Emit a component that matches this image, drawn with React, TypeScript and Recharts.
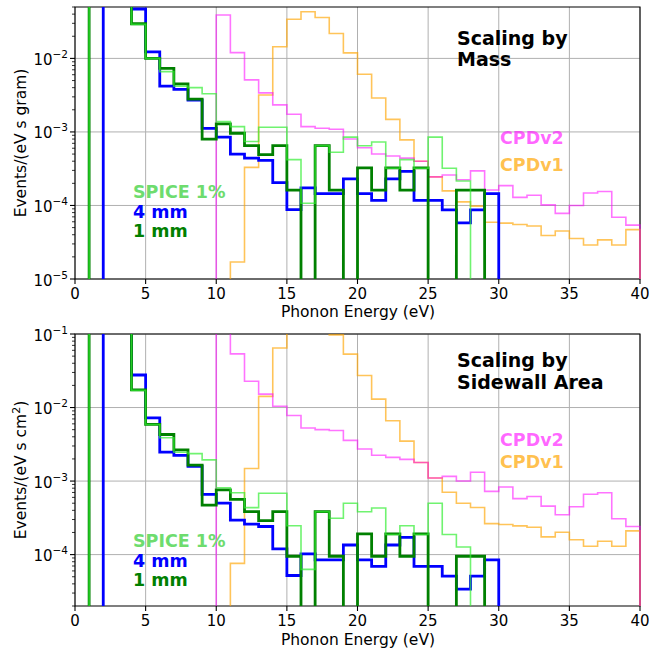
import React from "react";
import { LineChart, Line, XAxis, YAxis, CartesianGrid, ReferenceArea } from "recharts";

// bin edges in eV (1 eV bins from 0 to 40)
const binEdges = [
  0, 1, 2, 3, 4, 5, 6, 7, 8, 9, 10, 11, 12, 13, 14, 15, 16, 17, 18, 19, 20,
  21, 22, 23, 24, 25, 26, 27, 28, 29, 30, 31, 32, 33, 34, 35, 36, 37, 38, 39, 40,
];
const xTicks = [0, 5, 10, 15, 20, 25, 30, 35, 40];

// ---- scaling by mass: events / (eV s gram) ----
const massSpice = [
  0, 0.9, 0.5, 0.3, 0.029, 0.01, 0.0066, 0.0042, 0.004, 0.0033,
  0.00138, 0.00118, 0.00074, 0.00116, 0.00116, 4.2e-4, 1.07e-4, 6.5e-4, 5.3e-4, 8.5e-4,
  6.5e-4, 7.3e-4, 3.2e-4, 4.2e-4, 3.2e-4, 8.5e-4, 3.2e-4, 2.15e-4, 0, 0,
  0, 0, 0, 0, 0, 0, 0, 0, 0, 0,
];
const mass4mm = [
  0, 0, 0.8, 0.3, 0.047, 0.0123, 0.0042, 0.0038, 0.0027, 0.00112,
  0.00085, 0.0005, 0.00044, 0.00041, 0.000204, 8.8e-5, 1.74e-4, 1.45e-4, 1.45e-4, 2.3e-4,
  1.45e-4, 1.17e-4, 2.3e-4, 2.9e-4, 1.17e-4, 1.17e-4, 8.7e-5, 5.8e-5, 8.7e-5, 1.45e-4,
  0, 0, 0, 0, 0, 0, 0, 0, 0, 0,
];
const mass1mm = [
  0, 0.9, 0.5, 0.3, 0.0296, 0.01, 0.0073, 0.0045, 0.0028, 0.0008,
  0.00129, 0.00096, 0.00065, 0.00049, 0.00065, 1.62e-4, 0, 6.5e-4, 1.62e-4, 0,
  3.25e-4, 1.62e-4, 3.25e-4, 1.62e-4, 3.25e-4, 0, 0, 1.62e-4, 1.62e-4, 0,
  0, 0, 0, 0, 0, 0, 0, 0, 0, 0,
];
const massCpdV2 = [
  0, 0, 0, 0, 0, 0, 0, 0, 0, 0,
  0.039, 0.012, 0.0051, 0.0034, 0.00233, 0.00174, 0.00118, 0.00112, 0.00109, 0.0008,
  0.00061, 0.0005, 0.00047, 0.00044, 0.0004, 0.000245, 0.00026, 0.000224, 0.000295, 0.000162,
  0.000186, 0.000129, 0.000138, 0.000102, 7.8e-5, 1.0e-4, 1.48e-4, 1.55e-4, 6.9e-5, 5.4e-5,
];
const massCpdV1 = [
  0, 0, 0, 0, 0, 0, 0, 0, 0, 0,
  0, 1.7e-5, 3.3e-4, 0.00318, 0.0144, 0.034, 0.043, 0.036, 0.0218, 0.0119,
  0.0061, 0.0029, 0.00148, 0.00078, 0.0004, 0.000245, 0.000158, 0.000112, 9.8e-5, 5.9e-5,
  5.75e-5, 5.5e-5, 5.25e-5, 3.9e-5, 4.5e-5, 3.55e-5, 2.9e-5, 3.4e-5, 2.9e-5, 4.7e-5,
];

// ---- scaling by sidewall area: events / (eV s cm^2) ----
const areaSpice = [
  0, 0.5, 0.3, 0.2, 0.0171, 0.00589, 0.00389, 0.00247, 0.00236, 0.00194,
  0.00081, 0.000695, 0.000436, 0.000683, 0.000683, 2.47e-4, 6.3e-5, 3.83e-4, 3.12e-4, 5.0e-4,
  3.83e-4, 4.3e-4, 1.88e-4, 2.47e-4, 1.88e-4, 5.0e-4, 1.88e-4, 1.27e-4, 0, 0,
  0, 0, 0, 0, 0, 0, 0, 0, 0, 0,
];
const area4mm = [
  0, 0, 0.5, 0.2, 0.0277, 0.00724, 0.00247, 0.00224, 0.00159, 0.00066,
  0.0005, 0.000295, 0.000259, 0.000241, 0.00012, 5.2e-5, 1.02e-4, 8.5e-5, 8.5e-5, 1.35e-4,
  8.5e-5, 6.9e-5, 1.35e-4, 1.71e-4, 6.9e-5, 6.9e-5, 5.1e-5, 3.4e-5, 5.1e-5, 8.5e-5,
  0, 0, 0, 0, 0, 0, 0, 0, 0, 0,
];
const area1mm = [
  0, 0.5, 0.3, 0.2, 0.0174, 0.00589, 0.0043, 0.00265, 0.00165, 0.00047,
  0.00076, 0.000565, 0.000383, 0.000289, 0.000383, 9.5e-5, 0, 0.000383, 9.5e-5, 0,
  1.91e-4, 9.5e-5, 1.91e-4, 9.5e-5, 1.91e-4, 0, 0, 9.5e-5, 9.5e-5, 0,
  0, 0, 0, 0, 0, 0, 0, 0, 0, 0,
];
const areaCpdV2 = [
  0, 0, 0, 0, 0, 0, 0, 0, 0, 0,
  0.174, 0.0536, 0.0228, 0.0152, 0.0104, 0.00778, 0.00527, 0.00501, 0.00487, 0.00358,
  0.00273, 0.00224, 0.0021, 0.00197, 0.00179, 0.0011, 0.00116, 0.001, 0.00132, 0.000724,
  0.000831, 0.000577, 0.000617, 0.000456, 0.000349, 0.000447, 0.000662, 0.000693, 0.000308, 0.000241,
];
const areaCpdV1 = [
  0, 0, 0, 0, 0, 0, 0, 0, 0, 0,
  0, 7.6e-5, 0.00148, 0.0142, 0.0644, 0.152, 0.192, 0.161, 0.0974, 0.0532,
  0.0273, 0.013, 0.00662, 0.00349, 0.00179, 0.0011, 0.000706, 0.0005, 0.000438, 0.000264,
  0.000257, 0.000246, 0.000235, 0.000174, 0.000201, 0.000159, 0.00013, 0.000152, 0.00013, 0.00021,
];

const massMajor = [1e-5, 1e-4, 1e-3, 1e-2];
const areaMajor = [1e-4, 1e-3, 1e-2, 1e-1];

const FONT = "'DejaVu Sans', sans-serif";
const FLOOR = 1e-9; // empty bins sit far below the axis (log scale)

const SERIES = [
  { key: "cpd1", color: "#ffa500", opacity: 0.65, width: 1.6 },
  { key: "cpd2", color: "#ff00ff", opacity: 0.55, width: 1.6 },
  { key: "mm4", color: "#0000ff", opacity: 1, width: 2.8 },
  { key: "mm1", color: "#008000", opacity: 1, width: 2.8 },
  { key: "spice", color: "#33ee33", opacity: 0.7, width: 1.6 },
];

function buildRows(sets: Record<string, number[]>) {
  return binEdges.map((e, i) => {
    const row: Record<string, number> = { e };
    for (const k of Object.keys(sets)) {
      const v = sets[k][i] ?? 0;
      row[k] = v > 0 ? v : FLOOR;
    }
    return row;
  });
}

function logTicks(lo: number, hi: number) {
  const out: number[] = [];
  for (let k = Math.floor(Math.log10(lo)); k <= Math.ceil(Math.log10(hi)); k++) {
    for (let m = 1; m <= 9; m++) {
      const v = m * Math.pow(10, k);
      if (v >= lo * 0.999 && v <= hi * 1.001) out.push(v);
    }
  }
  return out;
}

function LogTick(props: any) {
  const { x, y, payload } = props;
  const p = Math.log10(payload.value);
  const major = Math.abs(p - Math.round(p)) < 1e-6;
  return (
    <g>
      <line x1={x - (major ? 5 : 3)} x2={x} y1={y} y2={y} stroke="#000" strokeWidth={major ? 1.1 : 0.8} />
      {major && (
        <text x={x - 7} y={y + 6.5} textAnchor="end" fontSize={15} fill="#000" fontFamily={FONT}>
          10
          <tspan dy={-7} fontSize={10.5}>
            {"\u2212" + Math.abs(Math.round(p))}
          </tspan>
        </text>
      )}
    </g>
  );
}

function Panel({
  rows,
  domain,
  major,
  height,
  top,
}: {
  rows: any[];
  domain: [number, number];
  major: number[];
  height: number;
  top: number;
}) {
  return (
    <LineChart width={649} height={height} data={rows} margin={{ top, right: 9, bottom: 18, left: 15 }}>
      <CartesianGrid stroke="#b0b0b0" strokeWidth={1} horizontalValues={major} verticalValues={xTicks} />
      <XAxis
        dataKey="e"
        type="number"
        domain={[0, 40]}
        ticks={xTicks}
        interval={0}
        height={30}
        axisLine={false}
        tickLine={{ stroke: "#000", strokeWidth: 1.1 }}
        tickSize={5}
        tickMargin={4}
        tick={{ fontSize: 15, fill: "#000", fontFamily: FONT }}
      />
      <YAxis
        scale="log"
        domain={domain}
        allowDataOverflow
        ticks={logTicks(domain[0], domain[1])}
        interval={0}
        width={60}
        axisLine={false}
        tickLine={false}
        tickSize={0}
        tickMargin={0}
        tick={(p: any) => <LogTick {...p} />}
      />
      {SERIES.map((s) => (
        <Line
          key={s.key}
          dataKey={s.key}
          type="stepAfter"
          stroke={s.color}
          strokeOpacity={s.opacity}
          strokeWidth={s.width}
          dot={false}
          activeDot={false}
          isAnimationActive={false}
        />
      ))}
      <ReferenceArea
        x1={0}
        x2={40}
        y1={domain[0]}
        y2={domain[1]}
        fill="none"
        fillOpacity={0}
        stroke="#000"
        strokeWidth={1.1}
        ifOverflow="visible"
      />
    </LineChart>
  );
}

const labelStyle = { fontFamily: FONT, fontWeight: 700 } as const;

export default function App() {
  const massRows = buildRows({ spice: massSpice, mm4: mass4mm, mm1: mass1mm, cpd2: massCpdV2, cpd1: massCpdV1 });
  const areaRows = buildRows({ spice: areaSpice, mm4: area4mm, mm1: area1mm, cpd2: areaCpdV2, cpd1: areaCpdV1 });

  return (
    <div style={{ position: "absolute", left: 0, top: 0, width: 649, height: 654, background: "#fff", fontFamily: FONT }}>
      <div style={{ position: "absolute", left: 0, top: 0 }}>
        <Panel rows={massRows} domain={[1e-5, 0.05]} major={massMajor} height={327} top={7} />
      </div>
      <div style={{ position: "absolute", left: 0, top: 315 }}>
        <Panel rows={areaRows} domain={[2e-5, 0.1]} major={areaMajor} height={339} top={19} />
      </div>
      <svg width={649} height={654} style={{ position: "absolute", left: 0, top: 0, pointerEvents: "none" }}>
        {/* axis titles */}
        <text x={358} y={317.3} textAnchor="middle" fontSize={15.5} fontFamily={FONT} fill="#000">
          Phonon Energy (eV)
        </text>
        <text x={358} y={644.7} textAnchor="middle" fontSize={15.5} fontFamily={FONT} fill="#000">
          Phonon Energy (eV)
        </text>
        <text transform="translate(25.5,143) rotate(-90)" textAnchor="middle" fontSize={15.5} fontFamily={FONT} fill="#000">
          Events/(eV s gram)
        </text>
        <text transform="translate(25.5,470) rotate(-90)" textAnchor="middle" fontSize={15.5} fontFamily={FONT} fill="#000">
          Events/(eV s cm
          <tspan dy={-6} fontSize={11}>2</tspan>
          <tspan dy={6}>)</tspan>
        </text>

        {/* top panel annotations */}
        <text x={457} y={44.5} fontSize={19} style={labelStyle} fill="#000">Scaling by</text>
        <text x={457} y={66} fontSize={19} style={labelStyle} fill="#000">Mass</text>
        <text x={500} y={144} fontSize={17.5} style={labelStyle} fill="#ff00ff" fillOpacity={0.6}>CPDv2</text>
        <text x={500} y={170.7} fontSize={17.5} style={labelStyle} fill="#ffa500" fillOpacity={0.7}>CPDv1</text>
        <text x={133} y={198.3} fontSize={17.5} style={labelStyle} fill="#6edc6e">SPICE 1%</text>
        <text x={133} y={217.5} fontSize={17.5} style={labelStyle} fill="#0000ff">4 mm</text>
        <text x={133} y={236.5} fontSize={17.5} style={labelStyle} fill="#008000">1 mm</text>

        {/* bottom panel annotations */}
        <text x={457} y={366.7} fontSize={19} style={labelStyle} fill="#000">Scaling by</text>
        <text x={457} y={389} fontSize={19} style={labelStyle} fill="#000">Sidewall Area</text>
        <text x={500} y={445.7} fontSize={17.5} style={labelStyle} fill="#ff00ff" fillOpacity={0.6}>CPDv2</text>
        <text x={500} y={468} fontSize={17.5} style={labelStyle} fill="#ffa500" fillOpacity={0.7}>CPDv1</text>
        <text x={133} y={547.3} fontSize={17.5} style={labelStyle} fill="#6edc6e">SPICE 1%</text>
        <text x={133} y={566.7} fontSize={17.5} style={labelStyle} fill="#0000ff">4 mm</text>
        <text x={133} y={585.5} fontSize={17.5} style={labelStyle} fill="#008000">1 mm</text>
      </svg>
    </div>
  );
}
